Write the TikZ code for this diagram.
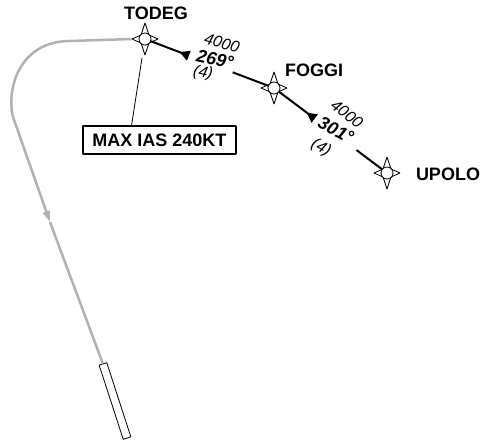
\documentclass[tikz,border=0pt]{standalone}
\usepackage{fontspec}
\setmainfont{Liberation Sans}
\usetikzlibrary{arrows.meta, calc}

\begin{document}
\begin{tikzpicture}[x = 1pt, y = -1pt, % pixel grid, y runs downwards
                > = {Triangle[reversed, length = 10pt, width = 10pt]}, % course arrow
                line join = round % line style
            ]

            \useasboundingbox (0,0) rectangle (485,441);

            \tikzstyle{fixring}=[draw = black, circle, fill = white, line width = 0.8pt,
            inner sep = 0pt, minimum size = 12pt]
            \tikzstyle{fixname}=[font = \fontsize{18}{18}\selectfont\bfseries, inner sep = 0pt]
            \tikzstyle{alt}=[font = \fontsize{16}{16}\selectfont\itshape, inner sep = 0pt]
            \tikzstyle{crs}=[font = \fontsize{18}{18}\selectfont\bfseries\itshape, inner sep = 0pt]
            \tikzstyle{leg}=[draw = black, line width = 2pt]
            \tikzstyle{approach}=[draw = black!30, line width = 2.5pt]
            \tikzstyle{leader}=[draw = black, line width = 0.8pt]
            \tikzstyle{limitbox}=[draw = black, line width = 2pt, fixname,
            minimum width = 153pt, minimum height = 28pt]
            \tikzstyle{runwaybox}=[draw = black, fill = white, line width = 0.8pt, inner sep = 0pt,
            minimum width = 78pt, minimum height = 8pt, rotate = -72]

            \tikzset{fix/.pic = {
                \draw[fill = white, line width = 0.8pt] (0,-16) -- (4,-4) -- (13,0) -- (4,4)
                -- (0,16) -- (-4,4) -- (-13,0) -- (-4,-4) -- cycle;
                \node[fixring] (-c) at (0,0) {};
                \coordinate (-w) at (-13,0);}}

            % waypoints
            \pic (todeg) at (145,39) {fix}; \pic (foggi) at (274,88) {fix};
            \pic (upolo) at (387,173) {fix};

            \node[fixname] (todegname) at (156,13) {TODEG};
            \node[fixname] (fogginame) at (314,70) {FOGGI};
            \node[fixname] (upoloname) at (448,174) {UPOLO};

            % runway and approach
            \node[runwaybox] (runway) at (115,401) {};
            \coordinate (garrow) at (50,222);

            \draw[approach, -{Triangle[length = 11pt, width = 7pt]}] (todeg-w) -- (70,41)
            .. controls (20,41) and (6,88) .. (13,117) -- (garrow);
            \draw[approach] (garrow) -- (runway.west);

            % legs
            \coordinate (a1) at ($(todeg-c)!0.34!(foggi-c)$);
            \coordinate (b1) at ($(todeg-c)!0.68!(foggi-c)$);
            \coordinate (a2) at ($(foggi-c)!0.36!(upolo-c)$);
            \coordinate (b2) at ($(foggi-c)!0.73!(upolo-c)$);

            \path[leg, ->] (todeg-c) edge (a1); \path[leg] (b1) edge (foggi-c);
            \path[leg, ->] (foggi-c) edge (a2); \path[leg] (b2) edge (upolo-c);

            \node[alt, rotate = -16] (alt1) at (222,43) {4000};
            \node[crs, rotate = -12] (crs1) at (215,59) {269°};
            \node[alt, rotate = -12] (dist1) at (203,73) {(4)};

            \node[alt, rotate = -38] (alt2) at (347,114) {4000};
            \node[crs, rotate = -28] (crs2) at (336,130) {301°};
            \node[alt, rotate = -30] (dist2) at (321,148) {(4)};

            % speed limit
            \node[limitbox] (maxias) at (159.5,140) {MAX IAS 240KT};
            \coordinate (leadtop) at (142,58);
            \draw[leader] ($(maxias.north west)!0.32!(maxias.north east)$) -- (leadtop);
\end{tikzpicture}
\end{document}
